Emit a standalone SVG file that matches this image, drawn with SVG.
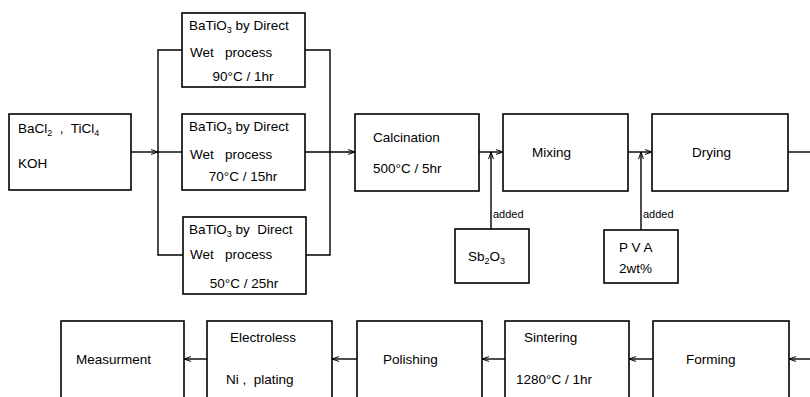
<svg xmlns="http://www.w3.org/2000/svg" width="810" height="397" viewBox="0 0 810 397">
<defs>
<marker id="ar" viewBox="0 0 10 10" refX="10" refY="5" markerWidth="7" markerHeight="7" orient="auto" markerUnits="userSpaceOnUse">
<path d="M0,1.5 L10,5 L0,8.5" fill="none" stroke="#000" stroke-width="1.4"/>
</marker>
</defs>
<style>
rect{fill:#fff;stroke:#000;stroke-width:1.6}
text{font-family:"Liberation Sans",Arial,sans-serif;font-size:13.5px;fill:#000;white-space:pre}
.c{text-anchor:middle}
.ln{fill:none;stroke:#000;stroke-width:1.4}
.sm{font-size:11px}
</style>
<rect x="0" y="0" width="810" height="397" style="fill:#fff;stroke:none"/>
<g id="connectors">
<path class="ln" d="M131,152 H158" marker-end="url(#ar)"/>
<path class="ln" d="M158,152 H182"/>
<path class="ln" d="M182,50 H158 V255 H183"/>
<path class="ln" d="M305,50 H330 V255 H306"/>
<path class="ln" d="M305,152 H355" marker-end="url(#ar)"/>
<path class="ln" d="M479,152 H503" marker-end="url(#ar)"/>
<path class="ln" d="M491,229 V152" marker-end="url(#ar)"/>
<path class="ln" d="M628,152 H652" marker-end="url(#ar)"/>
<path class="ln" d="M641,230 V152" marker-end="url(#ar)"/>
<path class="ln" d="M788,152 H810"/>
<path class="ln" d="M810,359 H789" marker-end="url(#ar)"/>
<path class="ln" d="M653,359 H629" marker-end="url(#ar)"/>
<path class="ln" d="M505,359 H482" marker-end="url(#ar)"/>
<path class="ln" d="M357,359 H332" marker-end="url(#ar)"/>
<path class="ln" d="M207,359 H184" marker-end="url(#ar)"/>
<text x="493" y="218" class="sm">added</text>
<text x="643" y="218" class="sm">added</text>
</g>
<g id="start">
<rect x="9" y="114" width="122" height="76"/>
<text x="18" y="133">BaCl<tspan font-size="9" dy="3">2</tspan><tspan dy="-3">  ,  TiCl</tspan><tspan font-size="9" dy="3">4</tspan></text>
<text x="18" y="168">KOH</text>
</g>
<g id="wet90">
<rect x="182" y="13" width="123" height="74"/>
<text x="189" y="30">BaTiO<tspan font-size="9" dy="3">3</tspan><tspan dy="-3"> by Direct</tspan></text>
<text x="190" y="57">Wet   process</text>
<text x="243" y="81" class="c">90°C / 1hr</text>
</g>
<g id="wet70">
<rect x="182" y="114" width="123" height="76"/>
<text x="189" y="131">BaTiO<tspan font-size="9" dy="3">3</tspan><tspan dy="-3"> by Direct</tspan></text>
<text x="190" y="159">Wet   process</text>
<text x="243" y="181" class="c">70°C / 15hr</text>
</g>
<g id="wet50">
<rect x="183" y="217" width="123" height="77"/>
<text x="189" y="234">BaTiO<tspan font-size="9" dy="3">3</tspan><tspan dy="-3"> by  Direct</tspan></text>
<text x="190" y="259">Wet   process</text>
<text x="244" y="288" class="c">50°C / 25hr</text>
</g>
<g id="calcination">
<rect x="355" y="114" width="124" height="77"/>
<text x="373" y="142">Calcination</text>
<text x="373" y="173">500°C / 5hr</text>
</g>
<g id="mixing">
<rect x="503" y="114" width="125" height="77"/>
<text x="532" y="157">Mixing</text>
</g>
<g id="drying">
<rect x="652" y="114" width="136" height="77"/>
<text x="692" y="157">Drying</text>
</g>
<g id="sb2o3">
<rect x="455" y="229" width="74" height="54"/>
<text x="468" y="261">Sb<tspan font-size="9" dy="3">2</tspan><tspan dy="-3">O</tspan><tspan font-size="9" dy="3">3</tspan></text>
</g>
<g id="pva">
<rect x="604" y="230" width="74" height="53"/>
<text x="619" y="252">P V A</text>
<text x="619" y="273">2wt%</text>
</g>
<g id="forming">
<rect x="653" y="321" width="136" height="90"/>
<text x="686" y="364">Forming</text>
</g>
<g id="sintering">
<rect x="505" y="321" width="124" height="90"/>
<text x="524" y="342">Sintering</text>
<text x="516" y="384">1280°C / 1hr</text>
</g>
<g id="polishing">
<rect x="357" y="321" width="125" height="90"/>
<text x="383" y="364">Polishing</text>
</g>
<g id="electroless">
<rect x="207" y="321" width="125" height="90"/>
<text x="230" y="342">Electroless</text>
<text x="226" y="384">Ni ,  plating</text>
</g>
<g id="measurement">
<rect x="61" y="321" width="123" height="90"/>
<text x="76" y="364">Measurment</text>
</g>
</svg>
